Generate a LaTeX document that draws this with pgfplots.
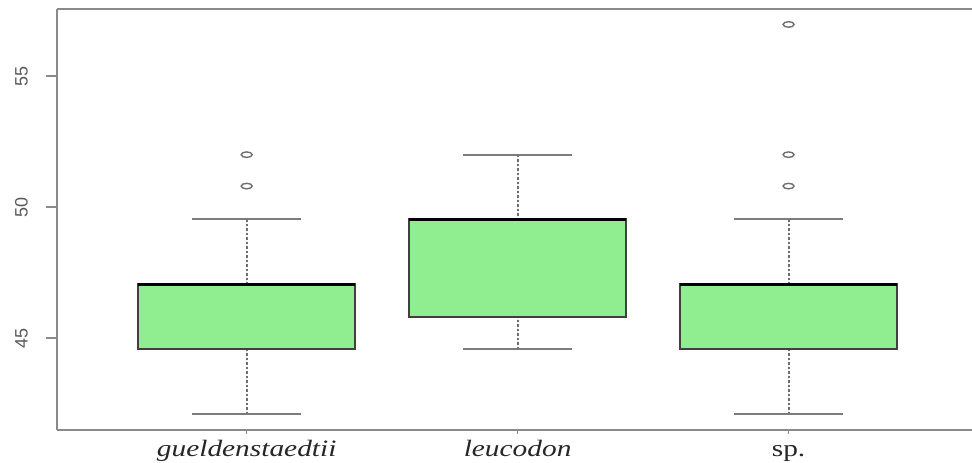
\documentclass[border=0pt]{standalone}
\usepackage{fontspec}
\setmainfont{Liberation Serif}
\newfontfamily\xlab[FakeStretch=1.25]{Liberation Serif}
\newfontfamily\ylab{Liberation Sans}
\usepackage{pgfplots}
\pgfplotsset{compat=1.18}
\usepgfplotslibrary{statistics}
\definecolor{lgreen}{HTML}{90EE90}
\definecolor{framegray}{HTML}{8A8A8A}
\definecolor{whiskgray}{HTML}{6E6E6E}
\begin{document}
\begin{tikzpicture}
\begin{axis}[
  scale only axis, width=915pt, height=421pt,
  xmin=0.30, xmax=3.677, ymin=41.49, ymax=57.56,
  axis lines=left,
  axis line style={-, framegray, line width=2pt},
  tick align=outside,
  xtick={1,2,3},
  xticklabels={\textit{gueldenstaedtii}, \textit{leucodon}, sp.},
  xticklabel style={font=\xlab\fontsize{23.5}{28}\selectfont, black!85, inner sep=0pt, anchor=base, yshift=-15pt},
  ytick={45,50,55},
  /pgf/number format/assume math mode=true,
  yticklabel style={xshift=-18pt, rotate=90, anchor=south, font=\ylab\fontsize{18}{20}\selectfont, gray!70!black, inner sep=0pt},
  major tick length=11pt,
  tick style={framegray, line width=1.4pt},
  xtick style={/pgfplots/major tick length=4pt},
  boxplot/draw direction=y,
  boxplot/box extend=0.8,
  boxplot/whisker extend=0.4,
  boxplot/every median/.style={black, line width=3pt},
  boxplot/draw/lower whisker/.code={
    \draw[whiskgray, line width=2pt, dash pattern=on 2.5pt off 2pt] (boxplot box cs:\pgfplotsboxplotvalue{lower whisker},0.5) -- (boxplot box cs:\pgfplotsboxplotvalue{lower quartile},0.5);
    \draw[whiskgray!90, line width=2pt] (boxplot whisker cs:\pgfplotsboxplotvalue{lower whisker},0) -- (boxplot whisker cs:\pgfplotsboxplotvalue{lower whisker},1);
  },
  boxplot/draw/upper whisker/.code={
    \draw[whiskgray, line width=2pt, dash pattern=on 2.5pt off 2pt] (boxplot box cs:\pgfplotsboxplotvalue{upper whisker},0.5) -- (boxplot box cs:\pgfplotsboxplotvalue{upper quartile},0.5);
    \draw[whiskgray!90, line width=2pt] (boxplot whisker cs:\pgfplotsboxplotvalue{upper whisker},0) -- (boxplot whisker cs:\pgfplotsboxplotvalue{upper whisker},1);
  },
  clip=false,
]
\addplot[boxplot prepared={draw position=1, lower whisker=42.09, lower quartile=44.57, median=47.05, upper quartile=47.05, upper whisker=49.53},
  fill=lgreen, draw=black!75, line width=1.8pt,
  mark=o, mark size=5.5pt, mark options={solid, fill=none, draw=whiskgray, line width=1.4pt, yscale=0.5}]
  table[row sep=\\, y index=0] {data\\ 50.8\\ 52.0\\};
\addplot[boxplot prepared={draw position=2, lower whisker=44.57, lower quartile=45.81, median=49.54, upper quartile=49.54, upper whisker=52.0},
  fill=lgreen, draw=black!75, line width=1.8pt,
  mark=o, mark size=5.5pt, mark options={solid, fill=none, draw=whiskgray, line width=1.4pt, yscale=0.5}]
  coordinates {};
\addplot[boxplot prepared={draw position=3, lower whisker=42.09, lower quartile=44.57, median=47.05, upper quartile=47.05, upper whisker=49.53},
  fill=lgreen, draw=black!75, line width=1.8pt,
  mark=o, mark size=5.5pt, mark options={solid, fill=none, draw=whiskgray, line width=1.4pt, yscale=0.5}]
  table[row sep=\\, y index=0] {data\\ 50.8\\ 52.0\\ 56.97\\};
\draw[framegray, line width=2pt] (rel axis cs:0,1) -- (rel axis cs:1,1);
\end{axis}
\pgfresetboundingbox
\path ([xshift=-57pt,yshift=-33pt]current axis.south west) rectangle ([yshift=9pt]current axis.north east);
\end{tikzpicture}
\end{document}
